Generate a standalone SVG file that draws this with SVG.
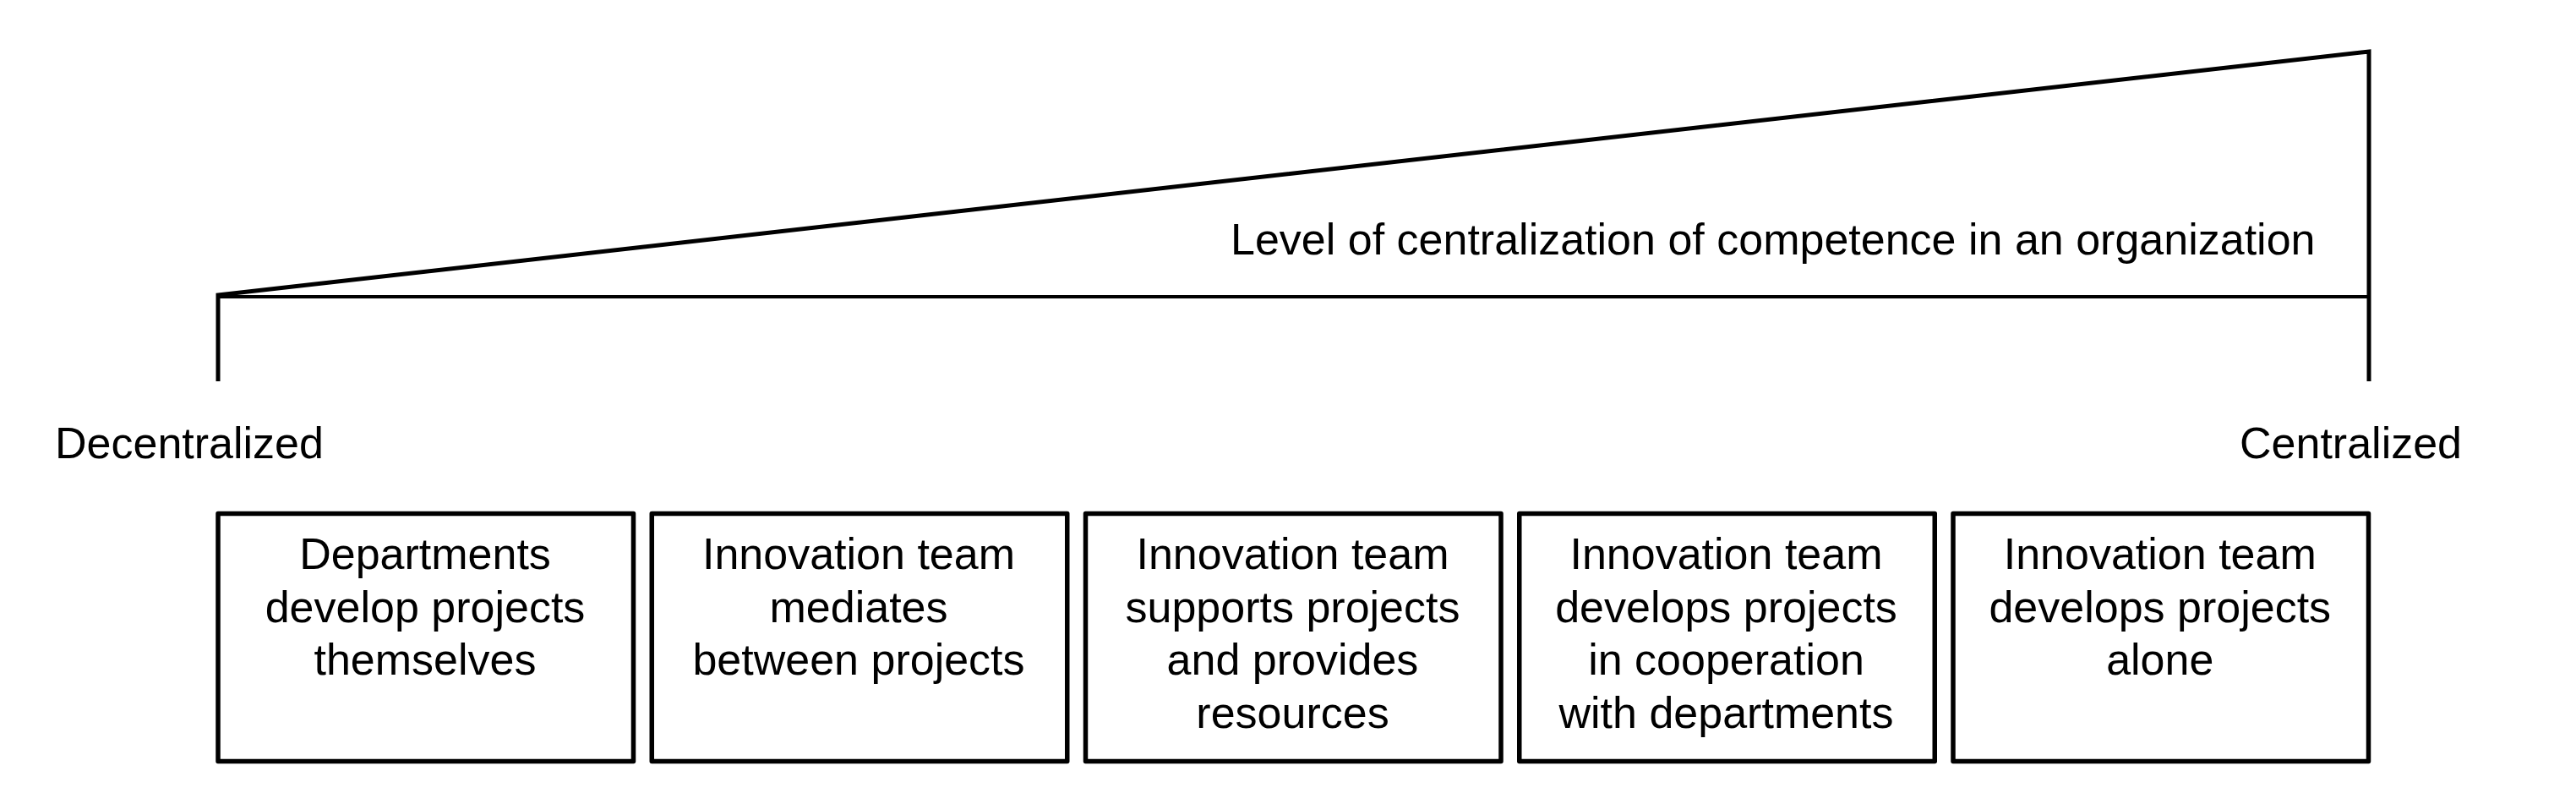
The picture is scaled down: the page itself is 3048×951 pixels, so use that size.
<svg xmlns="http://www.w3.org/2000/svg" width="3048" height="951" viewBox="0 0 3048 951">
<style>
  text { font-family: "Liberation Sans", Arial, sans-serif; font-size: 52px; fill: #000; }
  .c { text-anchor: middle; }
  .box { fill: #fff; stroke: #000; stroke-width: 5.5; stroke-linejoin: round; }
  .ln { fill: none; stroke: #000; stroke-width: 5; stroke-linejoin: miter; }
  .hl { fill: none; stroke: #000; stroke-width: 4; }
</style>
<rect width="3048" height="951" fill="#fff"/>
<g id="scale">
  <polyline class="ln" points="258,451 258,349 2803,61 2803,451"/>
  <line class="hl" x1="258" y1="351" x2="2803" y2="351"/>
  <text x="1456" y="301">Level of centralization of competence in an organization</text>
  <text id="decentralized" x="65" y="542">Decentralized</text>
  <text id="centralized" x="2650" y="542">Centralized</text>
</g>
<g id="node1">
  <rect class="box" x="258" y="607.5" width="491.5" height="293"/>
  <text class="c" x="503" y="673">Departments</text>
  <text class="c" x="503" y="736">develop projects</text>
  <text class="c" x="503" y="798">themselves</text>
</g>
<g id="node2">
  <rect class="box" x="771.25" y="607.5" width="491.5" height="293"/>
  <text class="c" x="1016" y="673">Innovation team</text>
  <text class="c" x="1016" y="736">mediates</text>
  <text class="c" x="1016" y="798">between projects</text>
</g>
<g id="node3">
  <rect class="box" x="1284.5" y="607.5" width="491.5" height="293"/>
  <text class="c" x="1529.5" y="673">Innovation team</text>
  <text class="c" x="1529.5" y="736">supports projects</text>
  <text class="c" x="1529.5" y="798">and provides</text>
  <text class="c" x="1529.5" y="861">resources</text>
</g>
<g id="node4">
  <rect class="box" x="1797.75" y="607.5" width="491.5" height="293"/>
  <text class="c" x="2042.5" y="673">Innovation team</text>
  <text class="c" x="2042.5" y="736">develops projects</text>
  <text class="c" x="2042.5" y="798">in cooperation</text>
  <text class="c" x="2042.5" y="861">with departments</text>
</g>
<g id="node5">
  <rect class="box" x="2311" y="607.5" width="491.5" height="293"/>
  <text class="c" x="2555.75" y="673">Innovation team</text>
  <text class="c" x="2555.75" y="736">develops projects</text>
  <text class="c" x="2555.75" y="798">alone</text>
</g>
</svg>
